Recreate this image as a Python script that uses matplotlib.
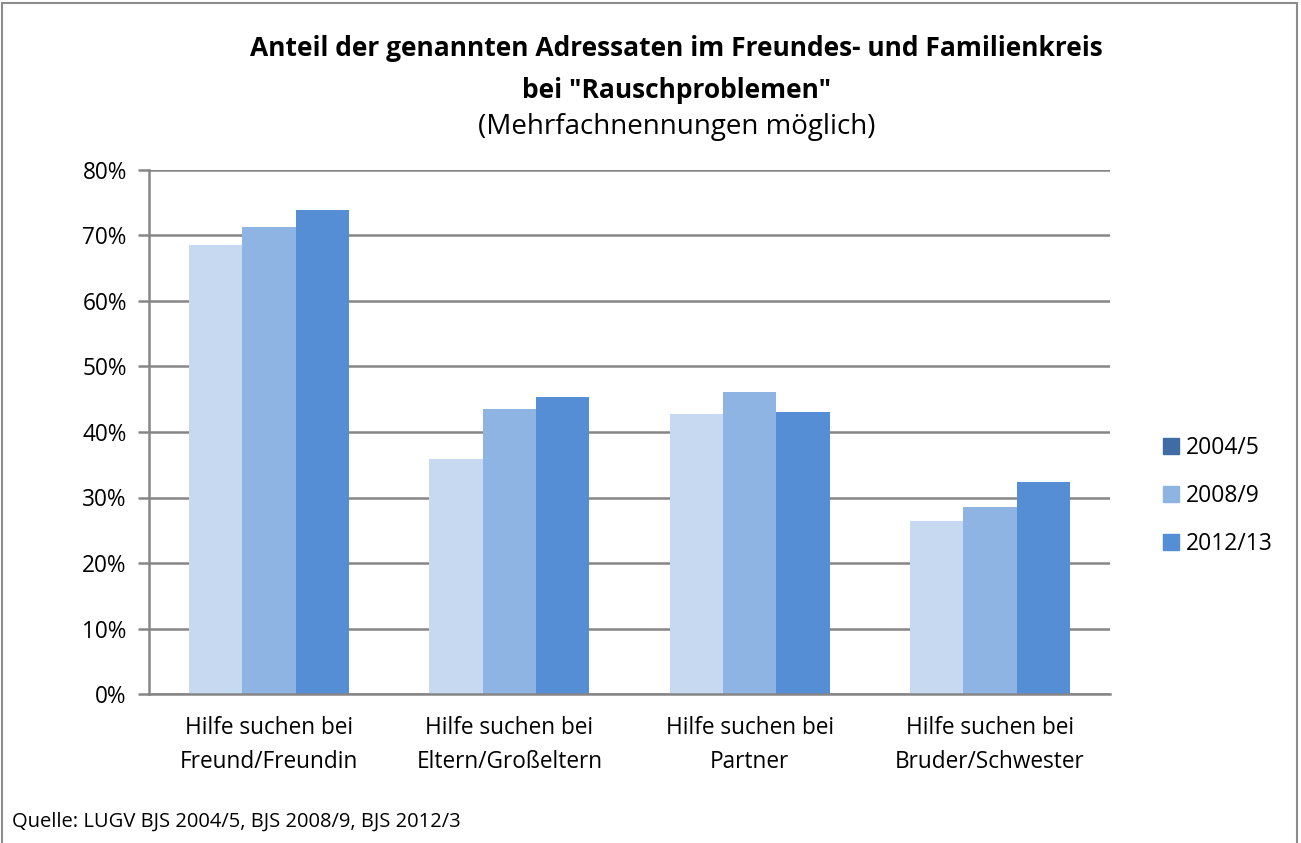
import matplotlib.pyplot as plt
import matplotlib.patches as mpatches
from matplotlib.ticker import MultipleLocator, PercentFormatter
import numpy as np

plt.rcParams['font.family'] = ['Open Sans', 'DejaVu Sans']

# %% data
categories = ['Hilfe suchen bei\nFreund/Freundin', 'Hilfe suchen bei\nEltern/Großeltern',
              'Hilfe suchen bei\nPartner', 'Hilfe suchen bei\nBruder/Schwester']
series = ['2004/5', '2008/9', '2012/13']
v_2004 = [68.6, 35.9, 42.7, 26.4]
v_2008 = [71.3, 43.5, 46.1, 28.5]
v_2012 = [73.9, 45.3, 43.1, 32.4]

bar_colors = ['#C6D9F1', '#8EB4E3', '#558ED5']
legend_colors = ['#3F6CA5', '#8EB4E3', '#558ED5']  # legend in the source doesn't match first bar
grid_color = '#868686'

# %% figure
fig = plt.figure(figsize=(13.01, 8.43), dpi=100)
ax = fig.add_axes([149 / 1301, 149 / 843, 961 / 1301, 524 / 843])

x = np.arange(len(categories))
w = 2 / 9
for i, vals in enumerate([v_2004, v_2008, v_2012]):
    ax.bar(x + (i - 1) * w, vals, width=w, color=bar_colors[i], zorder=2)

ax.set_xlim(-0.5, len(categories) - 0.5)
ax.set_ylim(0, 80)
ax.yaxis.set_major_locator(MultipleLocator(10))
ax.yaxis.set_major_formatter(PercentFormatter(decimals=0))
ax.grid(axis='y', color=grid_color, linewidth=1.8, zorder=0)
ax.set_xticks(x)
ax.set_xticklabels(categories, fontsize=16.3, linespacing=1.55)
ax.tick_params(axis='x', length=0, pad=16)
ax.tick_params(axis='y', length=8, width=1.8, color=grid_color, labelsize=16.3, pad=8)
for s in ['top', 'right']:
    ax.spines[s].set_visible(False)
for s in ['left', 'bottom']:
    ax.spines[s].set_color(grid_color)
    ax.spines[s].set_linewidth(1.8)

# legend
handles = [mpatches.Patch(color=c, label=l) for c, l in zip(legend_colors, series)]
fig.legend(handles=handles, loc='center left', bbox_to_anchor=(1142 / 1301, 1 - 496 / 843),
           frameon=False, fontsize=16.5, handlelength=0.7, handleheight=0.7,
           handletextpad=0.3, labelspacing=1.05)

# titles
fig.text(0.52, 1 - 49 / 843, 'Anteil der genannten Adressaten im Freundes- und Familienkreis',
         ha='center', va='center', fontsize=19, fontweight='bold')
fig.text(0.52, 1 - 91 / 843, 'bei "Rauschproblemen"',
         ha='center', va='center', fontsize=19, fontweight='bold')
fig.text(0.52, 1 - 127 / 843, '(Mehrfachnennungen möglich)',
         ha='center', va='center', fontsize=20)

fig.text(12 / 1301, 1 - 822 / 843, 'Quelle: LUGV BJS 2004/5, BJS 2008/9, BJS 2012/3',
         ha='left', va='center', fontsize=14.5)

# outer frame
fig.patches.append(mpatches.Rectangle((2 / 1301, -0.01), 1295 / 1301, 1 - 3 / 843 + 0.01,
                                      transform=fig.transFigure, fill=False,
                                      edgecolor='#8C8C8C', linewidth=1.5))

fig.savefig('out.png', dpi=100)
